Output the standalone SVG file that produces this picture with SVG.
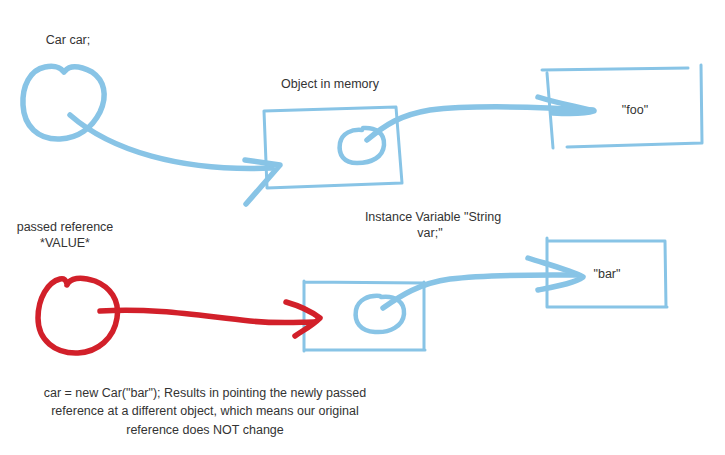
<svg xmlns="http://www.w3.org/2000/svg" width="725" height="455" viewBox="0 0 725 455">
<style>
.t{font-family:"Liberation Sans",Arial,sans-serif;font-size:12.5px;fill:#333;text-anchor:middle}
.b{fill:none;stroke:#88C4E6;stroke-linecap:round;stroke-linejoin:round}
.r{fill:none;stroke:#D2202A;stroke-linecap:round;stroke-linejoin:round}
.box{stroke-width:3}
.thick{stroke-width:5.5}
.loop{stroke-width:4.5}
</style>
<rect width="725" height="455" fill="#fff"/>
<g id="car-var">
<path class="b thick" d="M65,71 C70,65 80,66 92,72 C104,80 108,95 100,112 C92,128 78,138 60,139 C38,140 24,126 23,105 C22,86 30,70 45,67 C55,65 60,67 64,72"/>
<text class="t" x="68" y="44">Car car;</text>
</g>
<g id="object1">
<path class="b box" d="M264,111 L396,107 L402,183 L267,188 Z"/>
<path class="b loop" d="M363,128 C375,127 385,133 384,145 C383,157 372,163 357,163 C344,163 338,155 340,143 C342,133 352,129 362,130"/>
<text class="t" x="330" y="88">Object in memory</text>
</g>
<g id="foo-box">
<path class="b box" d="M542,70 L688,68 M701,65 L702,143 M567,147 L702,143 M547,73 L553,148"/>
<text class="t" x="635" y="114">"foo"</text>
</g>
<g id="passed-ref">
<path class="r thick" d="M67,285 C70,278 80,276 95,281 C110,287 120,300 117,318 C114,338 98,352 78,353 C55,354 38,340 38,318 C38,298 48,282 60,279 C64,278 66,280 67,284"/>
<text class="t" x="65" y="231">passed reference</text>
<text class="t" x="65" y="247">*VALUE*</text>
</g>
<g id="object2">
<path class="b box" d="M304,281 L304,351 M304,282 L424,283 M424,282 L424,350 M304,350 L425,350"/>
<path class="b loop" d="M381,297 C395,295 405,302 404,314 C403,326 390,333 375,332 C360,331 354,322 356,310 C358,300 368,295 380,296"/>
<text class="t" x="433" y="221">Instance Variable "String</text>
<text class="t" x="430" y="237">var;"</text>
</g>
<g id="bar-box">
<path class="b box" d="M547,241 L665,241 M665,241 L666,307 M547,307 L667,307 M547,238 L547,307"/>
<text class="t" x="607" y="278">"bar"</text>
</g>
<g id="connectors">
<path class="b thick" d="M70,115 C110,150 180,172 272,168"/>
<path class="b thick" d="M245,160 L280,165 L246,204"/>
<path class="b thick" d="M367,140 C385,125 400,115 430,110 C470,105 540,107 593,110"/>
<path class="b thick" d="M538,97 C560,104 580,107 594,111 C585,114 570,114 553,113"/>
<path class="r thick" d="M100,311 C160,308 200,316 250,321 C280,324 300,322 314,322"/>
<path class="r thick" d="M286,302 C300,306 312,312 320,318 C312,326 302,331 295,336"/>
<path class="b thick" d="M383,308 C400,296 420,283 450,279 C490,274 540,275 578,275"/>
<path class="b thick" d="M528,258 C550,265 570,270 583,277 C575,283 558,286 538,290"/>
</g>
<text class="t" x="205" y="397">car = new Car("bar"); Results in pointing the newly passed</text>
<text class="t" x="205" y="415">reference at a different object, which means our original</text>
<text class="t" x="205" y="434">reference does NOT change</text>
</svg>
